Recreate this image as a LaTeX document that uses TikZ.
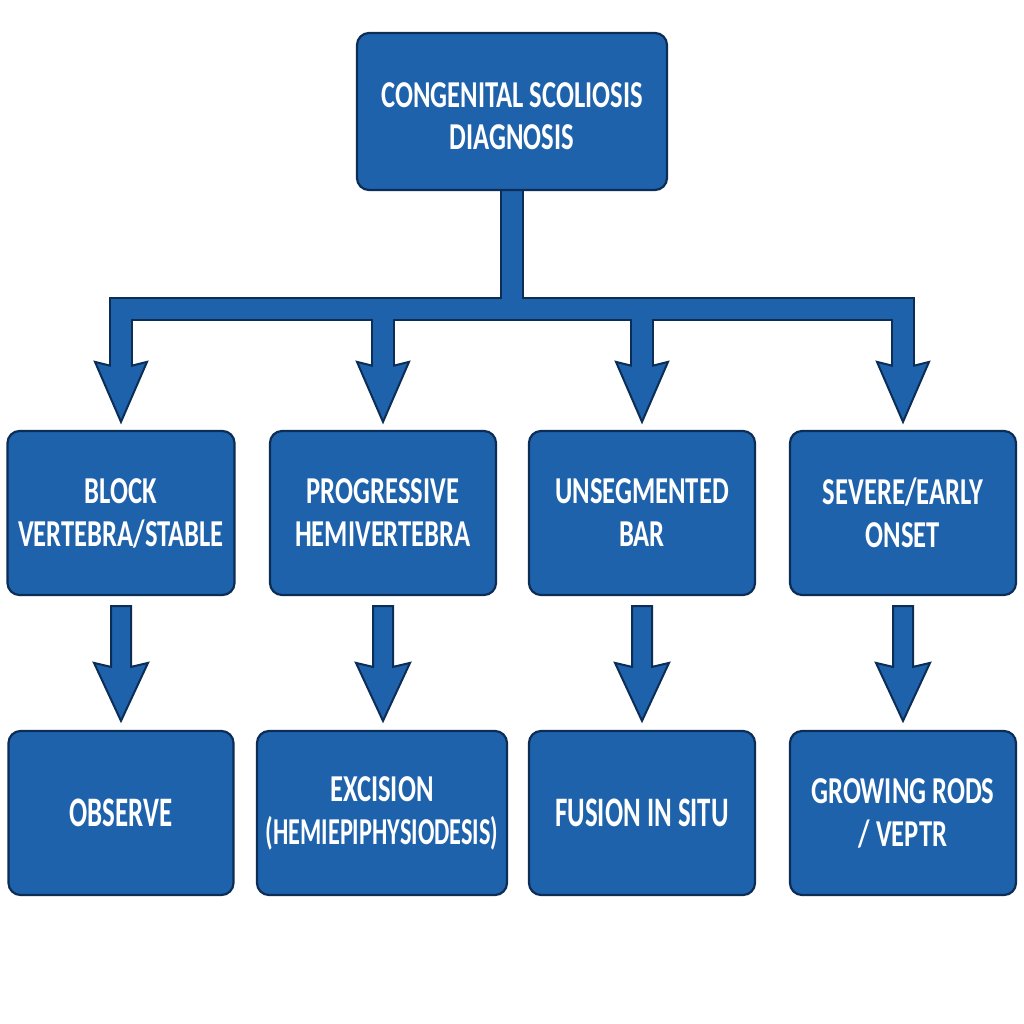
\documentclass[tikz,border=0pt]{standalone}
\usepackage{fontspec}
\newfontfamily\lab{Carlito}[FakeStretch=0.70]
\newfontfamily\labn{Carlito}[FakeStretch=0.64]
\usetikzlibrary{calc}
\definecolor{boxblue}{RGB}{30,98,172}
\definecolor{boxedge}{RGB}{12,45,85}
\pgfdeclarelayer{bg}
\pgfsetlayers{bg,main}
\begin{document}
\begin{tikzpicture}[x=1pt,y=-1pt,
  box/.style={draw=boxedge, line width=2.2pt, fill=boxblue, rounded corners=12pt,
    text=white, align=center, inner sep=0pt, minimum height=164pt,
    font=\lab\bfseries\fontsize{38}{43}\selectfont},
  bigtext/.style={font=\labn\bfseries\fontsize{42}{46}\selectfont},
  toptext/.style={font=\lab\bfseries\fontsize{38}{42}\selectfont, text height=77pt, text depth=0pt},
  arrowsty/.style={fill=boxblue, draw=boxedge, line width=2pt, line join=miter},
  outerline/.style={draw=boxedge, line width=24pt, line join=miter},
  innerline/.style={draw=boxblue, line width=20pt, line join=miter},
]
\useasboundingbox (0,0) rectangle (1024,1024);
\begin{pgfonlayer}{bg}
\fill[white] (0,0) rectangle (1024,1024);
\end{pgfonlayer}
\coordinate (bary) at (0,309);

% nodes
\path
  (512,111.5) node[box, toptext, minimum width=310pt, minimum height=157pt] (top) {CONGENITAL SCOLIOSIS\\DIAGNOSIS}
  (121,513)   node[box, minimum width=227pt] (b1) {BLOCK\\VERTEBRA/STABLE}
  (383,513)   node[box, minimum width=226pt] (b2) {PROGRESSIVE\\HEMIVERTEBRA}
  (642,513)   node[box, minimum width=226pt] (b3) {UNSEGMENTED\\BAR}
  (903,513)   node[box, minimum width=226pt] (b4) {SEVERE/EARLY\\ONSET}
  (121,813)   node[box, bigtext, minimum width=225pt] (c1) {OBSERVE}
  (382,813)   node[box, minimum width=250pt] (c2) {EXCISION\\{\labn(HEMIEPIPHYSIODESIS)}}
  (642,813)   node[box, bigtext, minimum width=226pt] (c3) {FUSION IN SITU}
  (903,813)   node[box, minimum width=226pt] (c4) {GROWING RODS\\/ VEPTR};

\begin{pgfonlayer}{bg}
% tree connector: dark outline layer, heads, blue inner layer
\path[outerline] ($(b1.north)+(0,-60)$) -- (b1.north |- bary) -- (b4.north |- bary) -- ($(b4.north)+(0,-60)$);
\path[outerline] ($(b2.north)+(0,-60)$) -- (b2.north |- bary);
\path[outerline] ($(b3.north)+(0,-60)$) -- (b3.north |- bary);
\path[outerline] (top.south) -- (top.south |- bary);
\foreach \n in {b1,b2,b3,b4}{
  \filldraw[arrowsty] ($(\n.north)+(-10,-64)$) -- ($(\n.north)+(-26,-68)$) -- ($(\n.north)+(0,-8)$) -- ($(\n.north)+(26,-68)$) -- ($(\n.north)+(10,-64)$);
}
\path[innerline] ($(b1.north)+(0,-62)$) -- (b1.north |- bary) -- (b4.north |- bary) -- ($(b4.north)+(0,-62)$);
\path[innerline] ($(b2.north)+(0,-62)$) -- (b2.north |- bary);
\path[innerline] ($(b3.north)+(0,-62)$) -- (b3.north |- bary);
\path[innerline] (top.south) -- (top.south |- bary);
\end{pgfonlayer}

% lower arrows
\foreach \u/\l in {b1/c1,b2/c2,b3/c3,b4/c4}{
  \filldraw[arrowsty] ($(\u.south)+(-10,10)$) -- ($(\u.south)+(10,10)$)
    -- ($(\u.south |- \l.north)+(10,-63)$) -- ($(\u.south |- \l.north)+(27,-67)$)
    -- ($(\u.south |- \l.north)+(0,-9)$) -- ($(\u.south |- \l.north)+(-27,-67)$)
    -- ($(\u.south |- \l.north)+(-10,-63)$) -- cycle;
}
\end{tikzpicture}
\end{document}
